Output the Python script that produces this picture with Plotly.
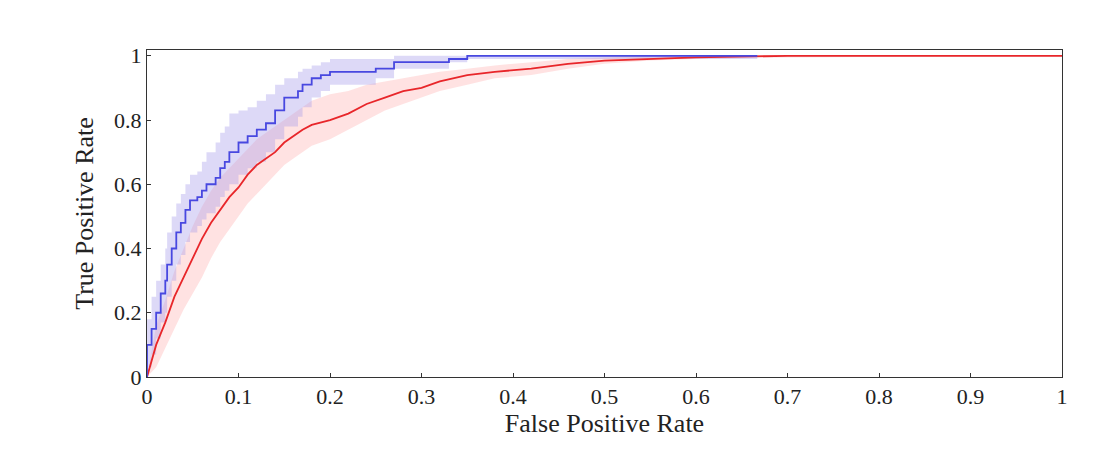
import plotly.graph_objects as go

blue_fpr = [0,0,0.005,0.01,0.015,0.02,0.022,0.027,0.032,0.037,0.042,0.047,0.055,0.06,0.065,0.075,0.08,0.085,0.09,0.1,0.11,0.12,0.13,0.14,0.15,0.165,0.17,0.18,0.19,0.2,0.25,0.27,0.33,0.35,0.667]
blue_tpr = [0,0.1,0.15,0.2,0.26,0.3,0.35,0.4,0.45,0.48,0.52,0.55,0.56,0.58,0.6,0.62,0.65,0.67,0.7,0.73,0.75,0.77,0.79,0.83,0.87,0.89,0.91,0.93,0.94,0.95,0.96,0.98,0.99,1.0,1.0]
blue_lo  = [0,0.03,0.07,0.12,0.17,0.2,0.25,0.3,0.35,0.38,0.42,0.45,0.47,0.49,0.51,0.53,0.56,0.58,0.6,0.63,0.65,0.67,0.7,0.74,0.78,0.81,0.84,0.87,0.89,0.91,0.93,0.96,0.98,0.99,0.995]
blue_hi  = [0,0.18,0.25,0.3,0.35,0.4,0.45,0.5,0.54,0.57,0.6,0.63,0.64,0.67,0.7,0.73,0.76,0.78,0.82,0.83,0.84,0.86,0.88,0.91,0.93,0.95,0.96,0.97,0.98,0.99,0.99,1.0,1.0,1.0,1.0]

red_fpr = [0,0.01,0.02,0.03,0.04,0.05,0.06,0.07,0.08,0.09,0.1,0.11,0.12,0.13,0.14,0.15,0.16,0.17,0.18,0.2,0.22,0.24,0.26,0.28,0.3,0.32,0.35,0.38,0.42,0.46,0.5,0.55,0.6,0.7,1.0]
red_tpr = [0,0.1,0.17,0.25,0.31,0.37,0.43,0.48,0.52,0.56,0.59,0.63,0.66,0.68,0.7,0.73,0.75,0.77,0.785,0.8,0.82,0.85,0.87,0.89,0.9,0.92,0.94,0.95,0.96,0.975,0.985,0.99,0.995,1.0,1.0]
red_lo  = [0,0.03,0.09,0.15,0.21,0.26,0.31,0.37,0.42,0.46,0.5,0.54,0.57,0.6,0.63,0.66,0.68,0.7,0.72,0.74,0.77,0.8,0.83,0.85,0.87,0.89,0.91,0.93,0.94,0.96,0.975,0.985,0.99,0.995,1.0]
red_hi  = [0,0.16,0.24,0.33,0.4,0.47,0.53,0.58,0.62,0.65,0.68,0.71,0.74,0.76,0.78,0.8,0.82,0.84,0.86,0.88,0.89,0.91,0.92,0.93,0.94,0.95,0.96,0.97,0.98,0.99,0.995,1.0,1.0,1.0,1.0]

fig = go.Figure()
fig.add_trace(go.Scatter(x=red_fpr, y=red_lo, mode='lines', line=dict(width=0), showlegend=False, hoverinfo='skip'))
fig.add_trace(go.Scatter(x=red_fpr, y=red_hi, mode='lines', line=dict(width=0), fill='tonexty', fillcolor='rgba(255,190,190,0.45)', showlegend=False, hoverinfo='skip'))
fig.add_trace(go.Scatter(x=blue_fpr, y=blue_lo, mode='lines', line=dict(width=0, shape='hv'), showlegend=False, hoverinfo='skip'))
fig.add_trace(go.Scatter(x=blue_fpr, y=blue_hi, mode='lines', line=dict(width=0, shape='hv'), fill='tonexty', fillcolor='rgba(170,160,235,0.4)', showlegend=False, hoverinfo='skip'))
fig.add_trace(go.Scatter(x=red_fpr, y=red_tpr, mode='lines', line=dict(color='#e8262a', width=1.8), showlegend=False))
fig.add_trace(go.Scatter(x=blue_fpr, y=blue_tpr, mode='lines', line=dict(color='#4848e0', width=1.8, shape='hv'), showlegend=False))

ax = dict(showgrid=False, zeroline=False, showline=True, linecolor='#333', linewidth=1, mirror=True,
          ticks='inside', ticklen=4, tickcolor='#333', automargin=False)
fig.update_layout(
    width=1118, height=453, plot_bgcolor='white', paper_bgcolor='white',
    margin=dict(l=139, r=64, t=42, b=84),
    font=dict(family='Liberation Serif, serif', size=22, color='#222'),
    xaxis=dict(ax, range=[0,1], tickvals=[0,0.1,0.2,0.3,0.4,0.5,0.6,0.7,0.8,0.9,1],
               ticktext=['0','0.1','0.2','0.3','0.4','0.5','0.6','0.7','0.8','0.9','1'],
               title=dict(text='False Positive Rate', standoff=4)),
    yaxis=dict(ax, range=[0,1.018], tickvals=[0,0.2,0.4,0.6,0.8,1],
               ticktext=['0','0.2','0.4','0.6','0.8','1'],
               title=dict(text='True Positive Rate', standoff=12)),
)
fig.write_html('out.html')
